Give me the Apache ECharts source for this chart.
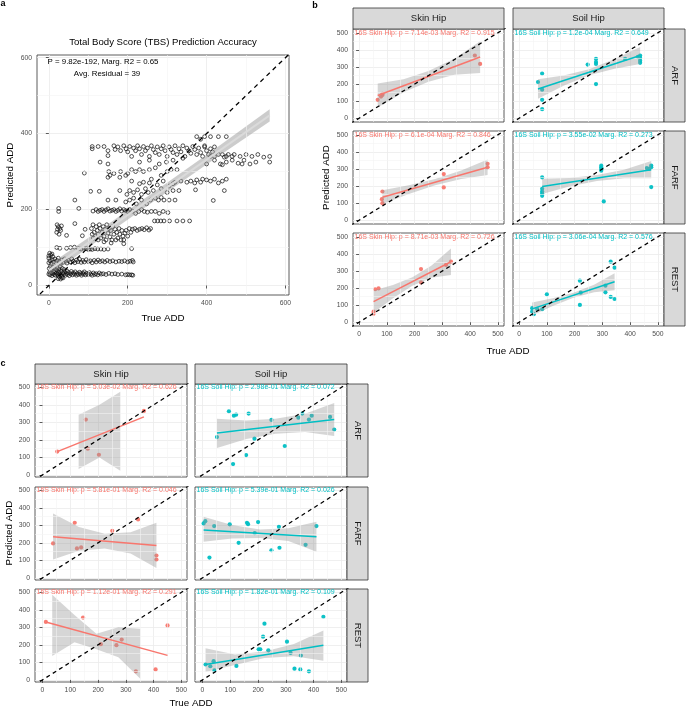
<!DOCTYPE html>
<html><head><meta charset="utf-8">
<script src="https://cdn.jsdelivr.net/npm/echarts@6/dist/echarts.min.js"></script>
<style>html,body{margin:0;padding:0;background:#fff}#c{width:686px;height:711px}</style>
</head><body><div id="c"></div>
<script>
// ---------------- DATA ----------------
const tbsPoints = [
[0,30],[2,35],[3,28],[5,40],[6,33],[8,26],[10,31],[12,38],[14,29],[15,35],[17,27],[19,33],[20,40],[22,30],[24,25],[25,36],[27,22],[28,31],[30,28],[31,38],[33,25],[35,33],[36,20],[38,30],[40,36],[42,27],[44,32],[46,38],[48,29],[50,34],[52,26],[55,31],[57,37],[60,28],[62,33],[65,30],[67,36],[70,27],[72,32],[75,29],[78,35],[80,31],[83,27],[86,33],[88,30],[90,36],[93,28],[96,32],[100,29],[103,34],[106,30],[110,27],[113,33],[116,29],[120,31],[124,28],[128,33],[133,30],[138,31],[145,29],[152,32],[160,30],[168,31],[175,29],[185,30],[195,28],[200,29],[205,28],[210,28],[213,27],
[1,45],[4,50],[7,42],[11,48],[16,44],[21,47],[26,43],[29,50],[34,45],[39,42],[24,18],[30,17],[33,21],
[0,60],[3,65],[6,58],[9,68],[12,62],[15,70],[18,60],[21,66],[24,72],[27,63],[30,58],[33,67],[36,61],[40,70],[43,64],[46,59],[50,66],[54,62],[58,70],[62,64],[66,60],[70,67],[74,63],[78,69],[82,61],[86,66],[90,62],[95,68],[100,63],[105,65],[110,60],[115,66],[120,62],[125,67],[130,63],[136,65],[142,62],[148,66],[155,63],[162,65],[170,62],[178,64],[185,63],[192,65],[200,62],[206,64],[212,66],[214,62],
[0,78],[2,85],[5,80],[8,83],[0,72],[10,76],
[20,100],[28,98],[45,98],[55,100],[65,101],[75,97],[82,96],[88,99],[95,97],[100,95],[105,96],[110,95],[117,97],[124,96],[132,96],[140,95],[150,96],[210,97],
[20,140],[22,148],[24,155],[26,135],[28,150],[30,145],[32,157],[21,160],[45,132],[66,163],[85,131],[92,148],
[108,150],[112,160],[115,140],[118,130],[120,155],[123,145],[125,135],[128,160],[130,150],[132,125],[135,140],[138,155],[140,130],[142,148],[145,120],[147,160],[150,138],[152,150],[155,128],[157,145],[160,120],[162,155],[165,135],[168,148],[170,120],[172,140],[175,125],[178,150],[180,135],[183,120],[185,145],[188,130],[190,120],[193,138],[196,145],[200,130],[204,150],[208,140],[212,148],[218,150],[224,145],[230,148],[236,150],[242,147],[248,152],[254,146],[258,150],[110,135],[113,125],[125,120],[140,115],[158,112],[190,110],
[25,195],[25,203],[76,203],[66,225],[112,196],[120,200],[125,195],[130,198],[135,200],[140,195],[145,199],[150,202],[155,196],[160,198],[165,200],[170,195],[175,198],[180,202],[185,196],[190,200],[195,197],[200,195],[205,200],[212,196],[220,190],[228,195],[235,200],[242,195],[250,193],[260,195],[270,195],[280,190],[290,195],[302,192],
[268,170],[276,170],[284,170],[292,170],[306,170],[325,170],[340,170],[357,170],
[106,248],[128,248],[90,296],
[150,225],[170,225],[195,220],[205,225],[215,230],[222,215],[235,225],[248,215],[258,225],[270,230],[278,225],[285,232],[292,225],[305,225],[320,225],
[180,250],[198,240],[205,250],[215,245],[225,252],[235,240],[245,255],[252,245],[265,250],[285,255],[300,245],[315,250],[330,250],
[210,275],[230,268],[240,272],[255,270],[260,280],[275,265],[290,275],[305,262],[315,268],[320,272],[335,275],[350,272],[360,275],[370,270],[375,278],[385,272],[390,280],[400,278],[410,275],[420,280],[430,270],[440,275],[450,280],[445,250],[372,252],[417,224],
[150,285],[152,300],[155,290],[165,295],[180,285],[182,300],[200,295],[210,305],[220,300],[230,305],[240,300],[255,305],[270,310],[285,290],[300,300],[310,305],[325,305],[195,290],
[130,325],[150,320],[230,325],[255,330],[280,320],[298,325],[315,330],[340,335],
[110,360],[110,366],[125,366],[140,366],[150,355],[150,342],[165,368],[168,358],[175,365],[182,355],[190,368],[196,360],[200,352],[205,366],[210,340],[215,362],[220,355],[225,368],[230,360],[235,345],[240,366],[245,355],[250,362],[255,340],[260,368],[265,358],[270,350],[275,365],[280,345],[285,360],[290,368],[295,355],[300,340],[305,365],[310,358],[315,350],[320,368],[325,345],[330,360],[335,352],[340,368],[345,340],[350,362],[355,355],[360,348],[365,366],[370,358],[375,345],[380,362],[385,350],[390,340],[395,365],[400,355],[405,345],[410,360],[415,352],[420,340],[430,345],[440,345],[450,340],
[375,392],[385,385],[395,392],[410,392],[430,392],[450,392],[395,368],[420,365],
[400,320],[410,340],[420,330],[435,320],[445,338],[450,325],[455,345],[465,330],[470,345],[480,322],[485,340],[495,330],[500,345],[510,320],[515,340],[525,325],[530,345],[545,338],[560,340],[560,325],[440,318],[465,340],[490,320]
];
const tbsFit = [[0,40],[560,448]];
const tbsBand = [[0,26,54],[140,130,154],[280,232,256],[420,333,359],[560,432,464]];
const identityLine = [[-100,-100],[700,700]];

const aTicks = [0,200,400,600];
const aMinor = [100,300,500];
const facetTicks = [0,100,200,300,400,500];
const facetMinor = [50,150,250,350,450];
const colNames = ['Skin Hip','Soil Hip'];
const rowNames = ['ARF','FARF','REST'];

// panel b
const bSkinArfPts = [[67,108],[79,127],[84,136],[84,142],[417,367],[436,318]];
const bSkinArfFit = [[67,133],[436,358]];
const bSkinArfBand = [[67,63,203],[160,152,228],[250,214,276],[343,255,348],[436,265,450]];
const bSkinArfLab = '16S Skin Hip: p = 7.14e-03 Marg. R2 = 0.915';
const bSoilArfPts = [[83,261],[68,212],[83,167],[83,108],[83,53],[247,314],[277,347],[277,329],[277,318],[277,200],[382,347],[436,367],[436,353],[436,337],[436,324],[428,359]];
const bSoilArfFit = [[68,171],[436,367]];
const bSoilArfBand = [[68,114,228],[160,190,250],[252,251,287],[344,290,346],[436,318,416]];
const bSoilArfLab = '16S Soil Hip: p = 1.2e-04 Marg. R2 = 0.649';
const bSkinFarfPts = [[84,168],[82,123],[84,100],[305,270],[305,192],[463,330],[463,310]];
const bSkinFarfFit = [[84,135],[463,310]];
const bSkinFarfBand = [[84,95,175],[179,154,204],[274,205,241],[368,241,291],[463,265,355]];
const bSkinFarfLab = '16S Skin Hip: p = 6.1e-04 Marg. R2 = 0.846';
const bSoilFarfPts = [[83,251],[83,184],[83,168],[83,157],[83,143],[296,319],[296,310],[296,300],[296,290],[305,110],[460,305],[468,300],[476,320],[476,310],[476,194]];
const bSoilFarfFit = [[83,198],[476,296]];
const bSoilFarfBand = [[83,153,243],[181,197,247],[280,229,265],[378,246,296],[476,246,346]];
const bSoilFarfLab = '16S Soil Hip: p = 3.55e-02 Marg. R2 = 0.273';
const bSkinRestPts = [[52,62],[52,49],[58,193],[70,198],[223,311],[223,233],[313,335],[331,354]];
const bSkinRestFit = [[52,121],[331,354]];
const bSkinRestBand = [[52,56,186],[122,140,218],[192,213,263],[261,260,332],[331,276,432]];
const bSkinRestLab = '16S Skin Hip: p = 8.71e-03 Marg. R2 = 0.726';
const bSoilRestPts = [[47,82],[47,62],[53,47],[65,78],[83,76],[100,163],[219,243],[219,101],[222,173],[311,214],[311,175],[330,354],[344,319],[330,148],[344,136]];
const bSoilRestFit = [[47,78],[344,237]];
const bSoilRestBand = [[47,40,116],[121,95,141],[196,143,173],[270,175,219],[344,187,287]];
const bSoilRestLab = '16S Soil Hip: p = 3.06e-04 Marg. R2 = 0.576';

// panel c
const cSkinArfPts = [[53,133],[156,316],[163,150],[203,115],[365,365]];
const cSkinArfFit = [[53,133],[365,331]];
const cSkinArfBand = [[130,34,344],[205,100,400],[280,24,475]];
const cSkinArfLab = '16S Skin Hip: p = 5.03e-02 Marg. R2 = 0.626';
const cSoilArfPts = [[52,216],[95,363],[113,338],[121,344],[166,350],[187,207],[157,113],[110,62],[248,314],[296,165],[345,327],[359,350],[383,316],[393,338],[459,331],[474,259]];
const cSoilArfFit = [[52,239],[474,316]];
const cSoilArfBand = [[52,154,321],[158,205,311],[263,235,320],[369,245,349],[474,222,410]];
const cSoilArfLab = '16S Soil Hip: p = 2.98e-01 Marg. R2 = 0.072';
const cSkinFarfPts = [[38,197],[116,315],[124,168],[139,174],[251,269],[344,334],[410,128],[410,105]];
const cSkinFarfFit = [[38,235],[410,185]];
const cSkinFarfBand = [[38,105,368],[131,155,290],[224,168,252],[317,140,260],[410,57,315]];
const cSkinFarfLab = '16S Skin Hip: p = 5.81e-01 Marg. R2 = 0.046';
const cSoilFarfPts = [[4,311],[10,324],[42,296],[98,306],[160,315],[164,307],[200,319],[130,200],[25,116],[188,256],[248,158],[277,172],[275,292],[371,189],[410,296]];
const cSoilFarfFit = [[4,273],[410,235]];
const cSoilFarfBand = [[4,206,349],[106,225,302],[207,228,276],[309,210,284],[410,149,321]];
const cSoilFarfLab = '16S Soil Hip: p = 5.39e-01 Marg. R2 = 0.026';
const cSkinRestPts = [[12,331],[146,356],[210,204],[266,198],[285,230],[336,49],[407,60],[450,311]];
const cSkinRestFit = [[12,331],[450,140]];
const cSkinRestBand = [[35,136,486],[115,215,370],[194,175,263],[273,130,300],[352,6,292]];
const cSkinRestLab = '16S Skin Hip: p = 1.12e-01 Marg. R2 = 0.291';
const cSoilRestPts = [[11,88],[28,78],[40,107],[43,54],[122,80],[202,175],[208,175],[218,247],[223,321],[237,169],[304,218],[317,154],[354,140],[331,64],[352,60],[383,49],[435,360]];
const cSoilRestFit = [[11,88],[435,198]];
const cSoilRestBand = [[11,45,180],[117,85,145],[223,125,162],[329,135,205],[435,110,282]];
const cSoilRestLab = '16S Soil Hip: p = 1.82e-01 Marg. R2 = 0.109';

// ---------------- LAYOUT / STYLE ----------------
const FONT = '"Liberation Sans", Arial, Helvetica, sans-serif';
const SKIN = '#F8766D', SOIL = '#00BFC4';
const TITLE_SIZE = 9.8, STRIP_SIZE = 9.5;
const option = {animation:false, backgroundColor:'#fff', grid:[], xAxis:[], yAxis:[], series:[], graphic:[]};

function axisCfg(gi, range, ticks, showLab) {
  return {type:'value', gridIndex:gi, min:range[0], max:range[1],
    axisLine:{show:false},
    axisTick:{show:showLab, length:3, customValues:ticks, lineStyle:{color:'#333', width:0.8}},
    axisLabel:{show:showLab, customValues:ticks, color:'#4D4D4D', fontSize:6.8, fontFamily:FONT, margin:5},
    splitLine:{show:true, lineStyle:{color:'#EBEBEB', width:0.8}}};
}
function addPanel(rect, xr, yr, xt, yt, xm, ym, showX, showY) {
  const gi = option.grid.length;
  option.grid.push({left:rect[0], top:rect[1], width:rect[2], height:rect[3], show:true,
    borderColor:'#333', borderWidth:0.8, backgroundColor:'#fff'});
  option.xAxis.push(axisCfg(gi, xr, xt, showX));
  option.yAxis.push(axisCfg(gi, yr, yt, showY));
  option.series.push({type:'line', xAxisIndex:gi, yAxisIndex:gi, data:[], silent:true, z:1, symbol:'none',
    markLine:{silent:true, symbol:['none','none'], label:{show:false}, animation:false,
      lineStyle:{color:'#F3F3F3', width:0.6, type:'solid'},
      data: xm.map(v=>({xAxis:v})).concat(ym.map(v=>({yAxis:v})))}});
  return gi;
}
function bandSeries(gi, band, fill, op) {
  return {type:'custom', xAxisIndex:gi, yAxisIndex:gi, silent:true, z:4, clip:true, data:band,
    encode:{x:0, y:[1,2]},
    renderItem:function(params, api){
      if (params.dataIndex !== 0) return null;
      const up = band.map(d=>api.coord([d[0], d[2]]));
      const lo = band.map(d=>api.coord([d[0], d[1]])).reverse();
      return {type:'polygon', shape:{points:up.concat(lo)}, style:{fill:fill, opacity:op}};
    }};
}
function lineSeries(gi, data, color, width, z, dash) {
  return {type:'line', xAxisIndex:gi, yAxisIndex:gi, data:data, symbol:'none', silent:true, clip:true, z:z,
    lineStyle:{color:color, width:width, type: dash || 'solid'}};
}
function txt(x, y, s, size, color, opts, bold) {
  option.graphic.push(Object.assign({type:'text', x:x, y:y, silent:true, z:100,
    style:{text:s, fill:color, fontSize:size, fontFamily:FONT, fontWeight: bold ? 'bold' : 'normal', textAlign:'center', textVerticalAlign:'middle'}}, opts||{}));
}
function rect(x, y, w, h) {
  option.graphic.push({type:'rect', silent:true, z:50, shape:{x:x, y:y, width:w, height:h},
    style:{fill:'#D9D9D9', stroke:'#333', lineWidth:0.8}});
}

// ---------- panel a ----------
const aRect = [37, 55, 252, 240];
const aX = [-30, 609], aY = [-25, 607];
const ga = addPanel(aRect, aX, aY, aTicks, aTicks, aMinor, aMinor, true, true);
option.series.push({type:'scatter', xAxisIndex:ga, yAxisIndex:ga, data:tbsPoints, symbol:'circle', symbolSize:3.8, z:3, silent:true,
  itemStyle:{color:'rgba(0,0,0,0)', borderColor:'#111', borderWidth:0.9}});
option.series.push(bandSeries(ga, tbsBand, '#999999', 0.5));
option.series.push(lineSeries(ga, tbsFit, '#DADADA', 2, 5));
option.series.push(lineSeries(ga, identityLine, '#000', 1.3, 6, [4.5, 4]));
txt(163, 42, 'Total Body Score (TBS) Prediction Accuracy', 9.6, '#000');
txt(103, 62, 'P = 9.82e-192, Marg. R2 = 0.65', 7.9, '#000');
txt(107, 74, 'Avg. Residual = 39', 7.9, '#000');
txt(10.5, 175, 'Predicted ADD', TITLE_SIZE, '#000', {rotation:Math.PI/2});
txt(163, 318, 'True ADD', TITLE_SIZE, '#000');
txt(3, 4, 'a', 9, '#000', null, true);

// ---------- facet builder ----------
function facetBlock(panels, colLefts, rowTops, w, h, xr, yr, stripTop, stripH, stripRightW) {
  panels.forEach((p, i) => {
    const r = Math.floor(i/2), c = i%2;
    const rc = [colLefts[c], rowTops[r], w, h];
    const g = addPanel(rc, xr, yr, facetTicks, facetTicks, facetMinor, facetMinor, r===2, c===0);
    const col = c===0 ? SKIN : SOIL;
    option.series.push({type:'scatter', xAxisIndex:g, yAxisIndex:g, data:p[0], symbol:'circle', symbolSize:4.2, z:3, silent:true,
      itemStyle:{color:col, opacity:0.95}});
    option.series.push(bandSeries(g, p[2], '#999999', 0.4));
    option.series.push(lineSeries(g, p[1], col, 1.5, 5));
    option.series.push(lineSeries(g, identityLine, '#000', 1.3, 6, [4, 3.5]));
    const ty = rc[1] + (yr[1]-500)/(yr[1]-yr[0])*h;
    option.graphic.push({type:'text', x:rc[0]+1.5, y:ty, silent:true, z:100,
      style:{text:p[3], fill:col, fontSize:7, fontFamily:FONT, textAlign:'left', textVerticalAlign:'middle'}});
  });
  colLefts.forEach((x, c) => { rect(x, stripTop, w, stripH); txt(x+w/2, stripTop+stripH/2, colNames[c], STRIP_SIZE, '#1A1A1A'); });
  rowTops.forEach((y, r) => { const x = colLefts[1]+w; rect(x, y, stripRightW, h); txt(x+stripRightW/2, y+h/2, rowNames[r], STRIP_SIZE, '#1A1A1A', {rotation:-Math.PI/2}); });
}

// ---------- panel b ----------
const bPanels = [
  [bSkinArfPts, bSkinArfFit, bSkinArfBand, bSkinArfLab], [bSoilArfPts, bSoilArfFit, bSoilArfBand, bSoilArfLab],
  [bSkinFarfPts, bSkinFarfFit, bSkinFarfBand, bSkinFarfLab], [bSoilFarfPts, bSoilFarfFit, bSoilFarfBand, bSoilFarfLab],
  [bSkinRestPts, bSkinRestFit, bSkinRestBand, bSkinRestLab], [bSoilRestPts, bSoilRestFit, bSoilRestBand, bSoilRestLab]
];
facetBlock(bPanels, [353, 513], [29, 131, 233], 151, 93, [-22, 522], [-22, 522], 8, 21, 21);
txt(326, 177.5, 'Predicted ADD', TITLE_SIZE, '#000', {rotation:Math.PI/2});
txt(508, 351, 'True ADD', TITLE_SIZE, '#000');
txt(315, 6, 'b', 9, '#000', null, true);

// ---------- panel c ----------
const cPanels = [
  [cSkinArfPts, cSkinArfFit, cSkinArfBand, cSkinArfLab], [cSoilArfPts, cSoilArfFit, cSoilArfBand, cSoilArfLab],
  [cSkinFarfPts, cSkinFarfFit, cSkinFarfBand, cSkinFarfLab], [cSoilFarfPts, cSoilFarfFit, cSoilFarfBand, cSoilFarfLab],
  [cSkinRestPts, cSkinRestFit, cSkinRestBand, cSkinRestLab], [cSoilRestPts, cSoilRestFit, cSoilRestBand, cSoilRestLab]
];
facetBlock(cPanels, [35, 195], [384, 487, 589], 152, 93, [-27, 520], [-12, 519], 364, 20, 21);
txt(9, 533, 'Predicted ADD', TITLE_SIZE, '#000', {rotation:Math.PI/2});
txt(191, 703, 'True ADD', TITLE_SIZE, '#000');
txt(3, 364, 'c', 9, '#000', null, true);

const chart = echarts.init(document.getElementById('c'), null, {renderer:'canvas'});
chart.setOption(option);
</script></body></html>
